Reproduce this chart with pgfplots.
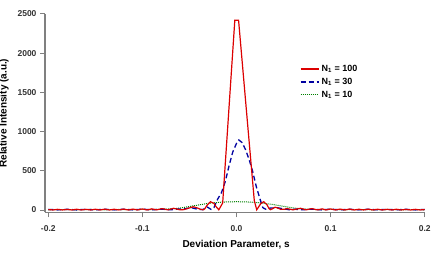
\documentclass[border=0pt]{standalone}
\usepackage{pgfplots}
\pgfplotsset{compat=1.18}
\usepackage{fontspec}
\setmainfont{Liberation Sans}
\definecolor{cred}{RGB}{220,0,0}
\definecolor{cblue}{RGB}{0,0,160}
\definecolor{cgreen}{RGB}{0,128,0}
\definecolor{axgray}{RGB}{128,128,128}
\begin{document}
\begin{tikzpicture}
\useasboundingbox (-45pt,-44.7pt) rectangle (394pt,212.3pt);
\begin{axis}[
 at={(0,0)}, anchor=south west,
 scale only axis, width=380pt, height=198.3pt,
 xmin=-0.2035, xmax=0.2003, ymin=-29, ymax=2500,
 axis x line*=bottom, axis y line*=left,
 axis line style={axgray, line width=1.2pt, -},
 tick style={axgray, line width=1pt},
 tick align=outside, major tick length=5pt,
 xtick={-0.2,-0.1,0,0.1,0.2}, xticklabels={-0.2,-0.1,0.0,0.1,0.2},
 ytick={0,500,1000,1500,2000,2500},
 minor tick num=0,
 tick label style={font=\fontsize{8.5}{10}\selectfont\bfseries, text=black!80},
 xticklabel style={yshift=-5pt},
 /pgf/number format/assume math mode=true,
 /pgf/number format/1000 sep={},
 xlabel={Deviation Parameter, s},
 ylabel={Relative Intensity (a.u.)},
 label style={font=\fontsize{10}{12}\selectfont\bfseries},
 xlabel style={at={(axis description cs:0.503,-0.1620)}, anchor=center},
 ylabel style={at={(axis description cs:-0.1080,0.5)}, anchor=center},
 legend image code/.code={\draw[#1] (0pt,0pt) -- (18pt,0pt);},
 every axis legend/.style={at={(axis description cs:0.670,0.755)}, anchor=north west,
   shape=rectangle, inner sep=0pt, cells={anchor=west},
   font=\fontsize{9}{10.8}\selectfont\bfseries, row sep=0pt,
   nodes={inner sep=2.5pt, text depth=0.15em}},
]
\addlegendimage{color=cred, line width=1.4pt}
\addlegendentry{N\textsubscript{1} = 100}
\addlegendimage{color=cblue, line width=1.3pt, dash pattern=on 5pt off 3pt}
\addlegendentry{N\textsubscript{1} = 30}
\addlegendimage{color=cgreen, line width=1.2pt, dash pattern=on 1pt off 1pt}
\addlegendentry{N\textsubscript{1} = 10}
\addplot[forget plot, color=cgreen, line width=1pt, dash pattern=on 1pt off 1pt] coordinates {
(-0.200,3)(-0.185,6)(-0.170,3)(-0.155,7)(-0.140,3)(-0.125,7)(-0.110,4)(-0.100,8)(-0.090,4)(-0.080,10)(-0.070,14)(-0.060,25)(-0.050,45)(-0.040,65)(-0.030,85)(-0.020,97)(-0.010,104)(0.000,106)(0.010,104)(0.020,97)(0.030,85)(0.040,68)(0.050,47)(0.060,27)(0.070,14)(0.080,8)(0.090,4)(0.100,8)(0.115,3)(0.130,7)(0.145,3)(0.160,7)(0.175,3)(0.190,6)(0.200,3)
};
\addplot[forget plot, color=cblue, line width=1.3pt, dash pattern=on 5pt off 3pt] coordinates {
(-0.200,8)(-0.190,2)(-0.180,9)(-0.170,2)(-0.160,9)(-0.150,2)(-0.140,10)(-0.130,2)(-0.120,10)(-0.110,2)(-0.100,11)(-0.090,2)(-0.080,12)(-0.070,3)(-0.062,12)(-0.055,15)(-0.048,30)(-0.042,12)(-0.036,5)(-0.031,38)(-0.027,8)(-0.024,30)(-0.020,140)(-0.016,220)(-0.012,360)(-0.008,560)(-0.004,740)(0.000,850)(0.0025,893)(0.006,860)(0.010,760)(0.014,620)(0.017,500)(0.021,300)(0.025,140)(0.028,30)(0.031,10)(0.036,25)(0.044,28)(0.050,15)(0.056,4)(0.062,10)(0.070,3)(0.080,12)(0.090,2)(0.100,11)(0.110,2)(0.120,10)(0.130,2)(0.140,10)(0.150,2)(0.160,9)(0.170,2)(0.180,9)(0.190,2)(0.200,8)
};
\addplot[forget plot, color=cred, line width=1.2pt] coordinates {
(-0.200,6)(-0.195,1)(-0.190,9)(-0.185,1)(-0.180,8)(-0.175,1)(-0.170,10)(-0.165,1)(-0.160,9)(-0.155,1)(-0.150,10)(-0.145,1)(-0.140,11)(-0.135,1)(-0.130,10)(-0.125,1)(-0.120,12)(-0.115,1)(-0.110,12)(-0.105,1)(-0.100,14)(-0.095,1)(-0.090,15)(-0.085,2)(-0.079,18)(-0.073,2)(-0.067,22)(-0.060,3)(-0.056,5)(-0.0505,25)(-0.046,42)(-0.042,28)(-0.038,8)(-0.035,3)(-0.0335,20)(-0.031,65)(-0.0276,106)(-0.024,85)(-0.0215,40)(-0.0188,3)(-0.0147,90)(-0.0018,2420)(0.0022,2420)(0.0114,1150)(0.0189,120)(0.0215,3)(0.0235,40)(0.026,85)(0.029,106)(0.0325,65)(0.0345,20)(0.036,4)(0.038,15)(0.041,36)(0.044,25)(0.047,8)(0.051,10)(0.054,18)(0.057,10)(0.060,3)(0.068,22)(0.074,2)(0.080,18)(0.086,2)(0.091,15)(0.095,1)(0.100,14)(0.105,1)(0.110,12)(0.115,1)(0.120,12)(0.125,1)(0.130,10)(0.135,1)(0.140,11)(0.145,1)(0.150,10)(0.155,1)(0.160,9)(0.165,1)(0.170,10)(0.175,1)(0.180,8)(0.185,1)(0.190,9)(0.195,1)(0.200,6)
};
\end{axis}
\end{tikzpicture}
\end{document}
